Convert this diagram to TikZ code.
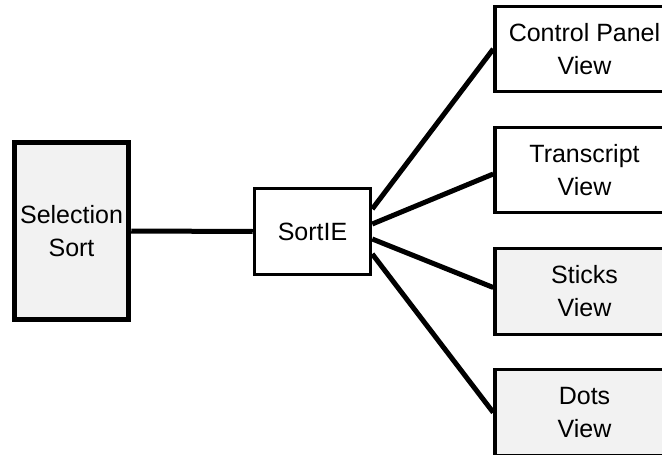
\documentclass[tikz,border=0pt]{standalone}
\usepackage{fontspec}
\setmainfont{Liberation Sans}
\definecolor{boxgray}{RGB}{242,242,242}
\tikzset{
  box/.style={draw=black, line width=3.5pt, align=center, inner sep=0pt,
    font=\fontsize{25}{33}\selectfont},
  graybox/.style={box, fill=boxgray},
  whitebox/.style={box, fill=white},
  conn/.style={line width=5pt}
}
\begin{document}
\begin{tikzpicture}[x=1pt,y=1pt]
\useasboundingbox (0,0) rectangle (662,-455);
\node[graybox, line width=5.5pt, minimum width=114pt, minimum height=177pt] (sel) at (71.5,-231) {Selection\\Sort};
\node[whitebox, minimum width=116pt, minimum height=86pt] (sortie) at (312.5,-231.5) {SortIE};
\node[whitebox, minimum width=179pt, minimum height=85pt] (cp) at (584.5,-49) {Control Panel\\View};
\node[whitebox, minimum width=179pt, minimum height=85pt] (tr) at (584.5,-170) {Transcript\\View};
\node[graybox, minimum width=179pt, minimum height=86pt] (st) at (584.5,-291.5) {Sticks\\View};
\node[graybox, minimum width=179pt, minimum height=86pt] (dt) at (584.5,-412.5) {Dots\\View};
\draw[conn] (sel.east) -- (sortie.west);
\draw[conn] ([yshift=22.5pt]sortie.east) -- (cp.west);
\draw[conn] ([yshift=7.5pt]sortie.east) -- ([yshift=-4pt]tr.west);
\draw[conn] ([yshift=-7.5pt]sortie.east) -- ([yshift=4pt]st.west);
\draw[conn] ([yshift=-22.5pt]sortie.east) -- (dt.west);
\end{tikzpicture}
\end{document}
